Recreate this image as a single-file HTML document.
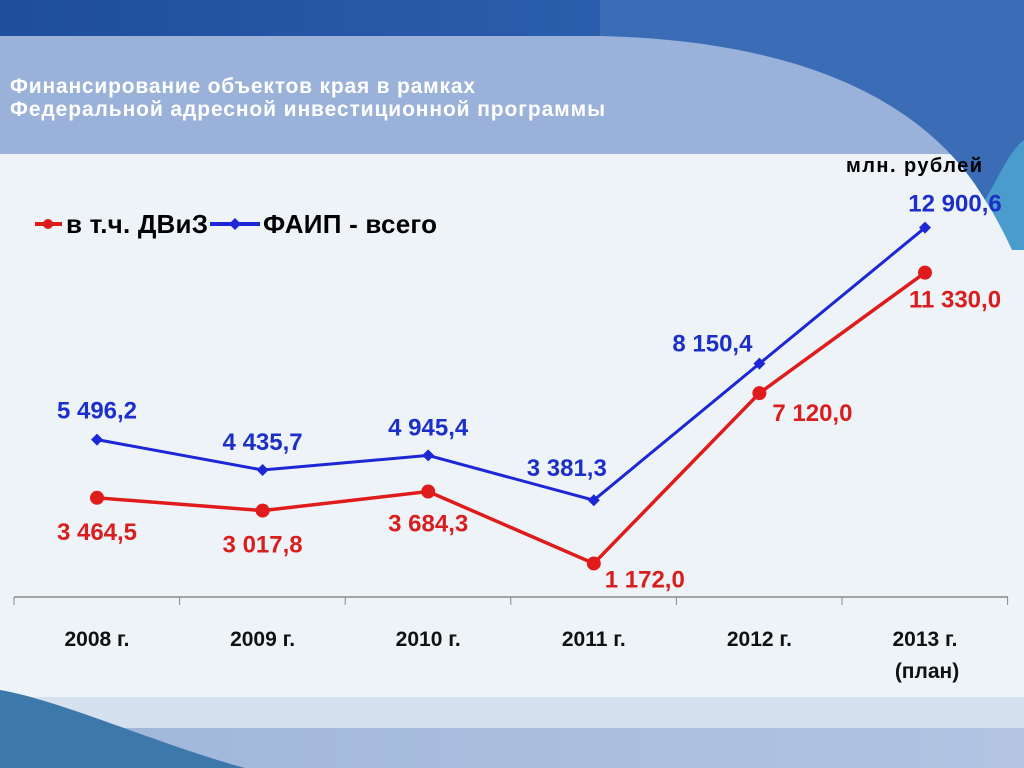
<!DOCTYPE html>
<html><head><meta charset="utf-8"><style>
body{margin:0;width:1024px;height:768px;overflow:hidden;font-family:"Liberation Sans",sans-serif}
svg{display:block}
</style></head><body>
<svg width="1024" height="768">
<defs>
<linearGradient id="top" x1="0" x2="1"><stop offset="0" stop-color="#1e4e9c"/><stop offset="0.6" stop-color="#2a5fae"/><stop offset="1" stop-color="#3a7fc0"/></linearGradient>
<linearGradient id="bot" x1="0" x2="1"><stop offset="0" stop-color="#9fb6da"/><stop offset="1" stop-color="#b2c4e2"/></linearGradient>
</defs>
<rect width="1024" height="768" fill="#eef3f8"/>
<rect width="1024" height="37" fill="url(#top)"/>
<rect y="36" width="1024" height="118" fill="#9ab1d9"/>
<path d="M600,36 C780,40 920,90 985,200 L1024,200 L1024,0 L600,0 Z" fill="#3a6db5"/>
<path d="M985,200 C995,215 1005,235 1012,250 L1024,250 L1024,140 C1010,150 1000,175 985,200 Z" fill="#4a9ccc"/>
<rect y="697" width="1024" height="31" fill="#d6e1ef"/>
<rect y="728" width="1024" height="40" fill="url(#bot)"/>
<path d="M0,690 C60,700 160,745 245,768 L0,768 Z" fill="#3d78ab"/>
<text x="10" y="93" font-size="21" font-weight="bold" fill="#fff" textLength="465">Финансирование объектов края в рамках</text>
<text x="10" y="116" font-size="21" font-weight="bold" fill="#fff" textLength="595">Федеральной адресной инвестиционной программы</text>
<text x="846" y="172" font-size="20" font-weight="bold" fill="#000" textLength="136">млн. рублей</text>
<g>
<line x1="35" y1="224" x2="62" y2="224" stroke="#e01b1b" stroke-width="4"/>
<circle cx="48" cy="224" r="5" fill="#e01b1b"/>
<text x="66" y="233" font-size="26" font-weight="bold" fill="#000" textLength="142">в т.ч. ДВиЗ</text>
<line x1="210" y1="224" x2="260" y2="224" stroke="#1c27d6" stroke-width="4"/>
<path d="M235,218 l6,6 l-6,6 l-6,-6 Z" fill="#1c27d6"/>
<text x="263" y="233" font-size="26" font-weight="bold" fill="#000" textLength="174">ФАИП - всего</text>
</g>
<g id="plot"></g>
</svg>
<script>
const categories=["2008 г.","2009 г.","2010 г.","2011 г.","2012 г.","2013 г."];
const faip=[5496.2,4435.7,4945.4,3381.3,8150.4,12900.6];
const dviz=[3464.5,3017.8,3684.3,1172.0,7120.0,11330.0];
const faipLabels=["5 496,2","4 435,7","4 945,4","3 381,3","8 150,4","12 900,6"];
const dvizLabels=["3 464,5","3 017,8","3 684,3","1 172,0","7 120,0","11 330,0"];
const NS="http://www.w3.org/2000/svg";
const g=document.getElementById('plot');
function x(i){return 97+i*165.6;}
function y(v){return 597-v*0.02863;}
function el(t,a){const e=document.createElementNS(NS,t);for(const k in a)e.setAttribute(k,a[k]);g.appendChild(e);return e;}
const ax=el('line',{x1:14,y1:597,x2:1008,y2:597,stroke:'#888','stroke-width':1.5});


for(let i=0;i<=6;i++){const t=el('line',{x1:14+i*165.6,y1:597,x2:14+i*165.6,y2:605,stroke:'#888'});

}
categories.forEach((c,i)=>{
const t=el('text',{x:x(i),y:646,'font-size':21,'font-weight':'bold','text-anchor':'middle',fill:'#111'});
t.textContent=c;


if(i===5){const p=el('text',{x:x(i)+2,y:678,'font-size':21,'font-weight':'bold','text-anchor':'middle',fill:'#111'});p.textContent='(план)';

}
});
const pb=el('polyline',{points:faip.map((v,i)=>x(i)+','+y(v)).join(' '),fill:'none',stroke:'#1c27d6','stroke-width':3});


const pr=el('polyline',{points:dviz.map((v,i)=>x(i)+','+y(v)).join(' '),fill:'none',stroke:'#e01b1b','stroke-width':3.5});


const bOff=[[0,-21],[0,-20],[0,-20],[-27,-24],[-47,-12],[30,-16]];
const rOff=[[0,42],[0,42],[0,40],[51,24],[53,28],[30,35]];
faip.forEach((v,i)=>{
const d=el('path',{d:`M${x(i)},${y(v)-6} l6,6 l-6,6 l-6,-6 Z`,fill:'#1c27d6'});


const t=el('text',{x:x(i)+bOff[i][0],y:y(v)+bOff[i][1],'font-size':24,'font-weight':'bold','text-anchor':'middle',fill:'#1c2fc8'});
t.textContent=faipLabels[i];


});
dviz.forEach((v,i)=>{
const c=el('circle',{cx:x(i),cy:y(v),r:7,fill:'#e01b1b'});


const t=el('text',{x:x(i)+rOff[i][0],y:y(v)+rOff[i][1],'font-size':24,'font-weight':'bold','text-anchor':'middle',fill:'#d81e1e'});
t.textContent=dvizLabels[i];


});
</script>
</body></html>
